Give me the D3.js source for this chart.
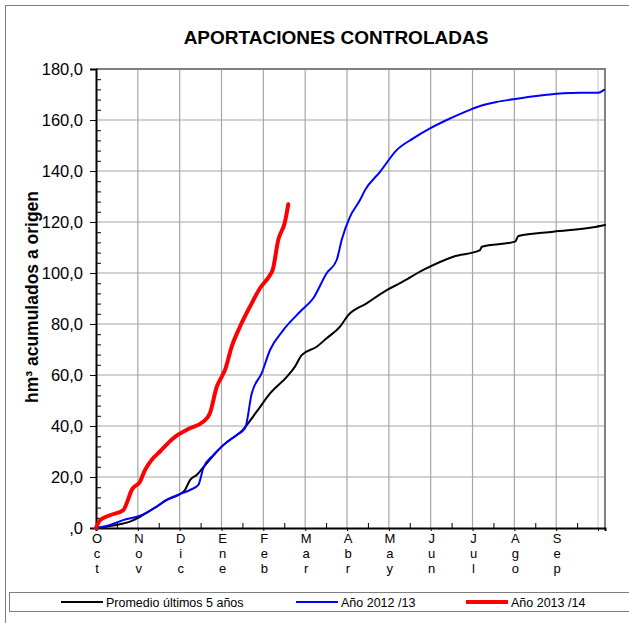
<!DOCTYPE html>
<html>
<head>
<meta charset="utf-8">
<script src="https://cdn.jsdelivr.net/npm/d3@7"></script>
<style>
  html, body { margin: 0; padding: 0; background: #fff; }
  svg { display: block; font-family: "Liberation Sans", Arial, sans-serif; }
</style>
</head>
<body>
<svg id="chart" width="629" height="623"></svg>
<script>
// Hydrological year, day 0 = 1 October; accumulated inflow in hm³
const monthLabels = ["Oct", "Nov", "Dic", "Ene", "Feb", "Mar", "Abr", "May", "Jun", "Jul", "Ago", "Sep"];
const monthTickDays = [0, 30, 60, 90, 120, 150, 180, 210, 240, 270, 300, 330, 360];
const halfTickDays = [15, 45, 75, 105, 135, 165, 195, 225, 255, 285, 315, 345];
const yMajorTicks = [0, 20, 40, 60, 80, 100, 120, 140, 160, 180];

const seriesNames = ["Promedio últimos 5 años", "Año 2012 /13", "Año 2013 /14"];

// [day, hm³]
const promedio = [
  [0, 0], [10, 0.8], [19.6, 1.8], [24.4, 2.5], [31.6, 4.4], [43.5, 8.4], [50.7, 11],
  [60.2, 13.3], [63.8, 14.9], [67.4, 18.8], [72.2, 20.8], [79.4, 25.4], [91.3, 32.5],
  [105.6, 38.7], [115.2, 45.6], [124.8, 52.8], [136.8, 59.3], [142.7, 63.3],
  [147.5, 67.8], [158.3, 71.1], [165.4, 74.4], [175, 79], [180.9, 83.5],
  [194.1, 88.1], [208.5, 93.3], [218, 96], [234.7, 101.2], [256.2, 106.4],
  [275.4, 109], [276.6, 110.3], [300.5, 112.3], [302.9, 114.5], [327.9, 116.2],
  [356.6, 117.9], [365, 118.8]
];

const anio1213 = [
  [0, 0], [10, 1.2], [19.4, 3.1], [31.6, 4.8], [43.5, 8.4], [50.7, 11], [60.2, 13.3],
  [67.4, 14.9], [73.4, 16.9], [76.9, 23.4], [84.1, 28.6], [91.3, 32.5], [100.9, 36.5],
  [106.9, 39.1], [111.7, 52.8], [118.8, 60.7], [124.8, 69.8], [134.3, 77.6],
  [146.3, 84.8], [155.8, 90.1], [165.4, 99.9], [172.6, 105.1], [176.2, 113],
  [182.1, 122], [189.3, 128.6], [192.9, 132.5], [203.7, 139.7], [215.6, 148.2],
  [227.5, 152.8], [239.5, 156.7], [251.5, 160], [263.4, 162.9], [275.4, 165.5],
  [287.3, 167.1], [299.2, 168.1], [311.2, 169.1], [323.2, 169.9], [335.1, 170.5],
  [347.1, 170.7], [360.2, 170.7], [364.3, 171.8]
];

const anio1314 = [
  [0, 0], [2.9, 3.1], [10, 5], [19.6, 7], [22, 9.7], [25.6, 14.9], [31.6, 18.2],
  [35.1, 22.7], [39.9, 26.7], [45.9, 30], [55.4, 35.2], [67.4, 39.1], [76.9, 41.7],
  [81.7, 45], [86.6, 55.4], [90.1, 59.3], [92.5, 62], [97.3, 71.1], [103.3, 79],
  [110.4, 86.8], [117.6, 94], [124.8, 99.2], [126.7, 101.2], [130.7, 113],
  [135.5, 120], [137.9, 127]
];

const svg = d3.select("#chart");

const x = d3.scaleLinear().domain([0, 365]).range([96, 605]);
const y = d3.scaleLinear().domain([0, 180]).range([528, 69]);

// outer frame
svg.append("rect")
  .attr("x", 5.5).attr("y", 5.5).attr("width", 640).attr("height", 640)
  .attr("fill", "none").attr("stroke", "#7f7f7f").attr("stroke-width", 1);

// title
svg.append("text")
  .attr("x", 336).attr("y", 44)
  .attr("text-anchor", "middle")
  .attr("font-size", 19).attr("font-weight", "bold")
  .text("APORTACIONES CONTROLADAS");

// gridlines
const grid = svg.append("g");
grid.selectAll("line.h").data(yMajorTicks.slice(1)).join("line")
  .attr("x1", x(0)).attr("x2", x(365))
  .attr("y1", d => y(d)).attr("y2", d => y(d))
  .attr("stroke", "#a6a6a6").attr("stroke-width", 1.2);
grid.selectAll("line.v").data(monthTickDays.slice(1)).join("line")
  .attr("x1", d => x(d)).attr("x2", d => x(d))
  .attr("y1", y(0)).attr("y2", y(180))
  .attr("stroke", d => d === 360 ? "#d0d0d0" : "#a6a6a6").attr("stroke-width", 1.2);

// plot frame (top and right)
svg.append("path")
  .attr("d", `M${x(0)},${y(180)}H${x(365)}V${y(0)}`)
  .attr("fill", "none").attr("stroke", "#808080").attr("stroke-width", 2);

// y axis
const yFmt = v => v === 0 ? ",0" : v.toFixed(1).replace(".", ",");
const yAxis = svg.append("g").attr("transform", `translate(${x(0)},0)`)
  .call(d3.axisLeft(y).tickValues(yMajorTicks).tickSize(6).tickPadding(7).tickFormat(yFmt));
yAxis.select(".domain").attr("stroke", "#000").attr("stroke-width", 2);
yAxis.selectAll(".tick text").attr("font-size", 16.5).attr("fill", "#000")
  .attr("font-family", "Liberation Sans, Arial, sans-serif");

const yMinor = d3.range(0, 181, 4).filter(v => v % 20 !== 0);
svg.append("g").attr("transform", `translate(${x(0)},0)`)
  .call(d3.axisRight(y).tickValues(yMinor).tickSize(5).tickFormat(""))
  .call(g => g.select(".domain").remove());

// x axis
const xAxis = svg.append("g").attr("transform", `translate(0,${y(0)})`)
  .call(d3.axisBottom(x).tickValues(monthTickDays).tickSize(3).tickFormat(""));
xAxis.select(".domain").attr("stroke", "#000").attr("stroke-width", 2);
svg.append("g").attr("transform", `translate(0,${y(0)})`)
  .call(d3.axisTop(x).tickValues(halfTickDays).tickSize(5).tickFormat(""))
  .call(g => g.select(".domain").remove());

// month labels, letters stacked vertically
const months = svg.append("g").attr("font-size", 13).attr("text-anchor", "middle");
monthLabels.forEach((m, i) => {
  const t = months.append("text").attr("x", x(monthTickDays[i]) + 1).attr("y", 543);
  m.split("").forEach((ch, j) => {
    t.append("tspan").attr("x", x(monthTickDays[i]) + 1).attr("dy", j === 0 ? 0 : 15).text(ch);
  });
});

// y axis title
svg.append("text")
  .attr("transform", "translate(38,297) rotate(-90)")
  .attr("text-anchor", "middle")
  .attr("font-size", 17.5).attr("font-weight", "bold")
  .text("hm³ acumulados a origen");

// series lines
const line = d3.line().curve(d3.curveMonotoneX).x(d => x(d[0])).y(d => y(d[1]));
const series = [
  { data: promedio, color: "#000000", width: 2 },
  { data: anio1213, color: "#0000ff", width: 2 },
  { data: anio1314, color: "#ff0000", width: 4 }
];
svg.append("g").selectAll("path").data(series).join("path")
  .attr("d", d => line(d.data))
  .attr("fill", "none")
  .attr("stroke", d => d.color)
  .attr("stroke-width", d => d.width)
  .attr("stroke-linejoin", "round")
  .attr("stroke-linecap", "round");

// legend
svg.append("rect")
  .attr("x", 9.5).attr("y", 592.5).attr("width", 640).attr("height", 19)
  .attr("fill", "none").attr("stroke", "#7f7f7f").attr("stroke-width", 1);
const legendX = [61, 296, 466];
const legend = svg.append("g").selectAll("g").data(series).join("g")
  .attr("transform", (d, i) => `translate(${legendX[i]},602)`);
legend.append("line").attr("x1", 0).attr("x2", 42)
  .attr("stroke", d => d.color).attr("stroke-width", d => d.width);
legend.append("text").attr("x", 45).attr("y", 4.5)
  .attr("font-size", 12.5)
  .text((d, i) => seriesNames[i]);
</script>
</body>
</html>
